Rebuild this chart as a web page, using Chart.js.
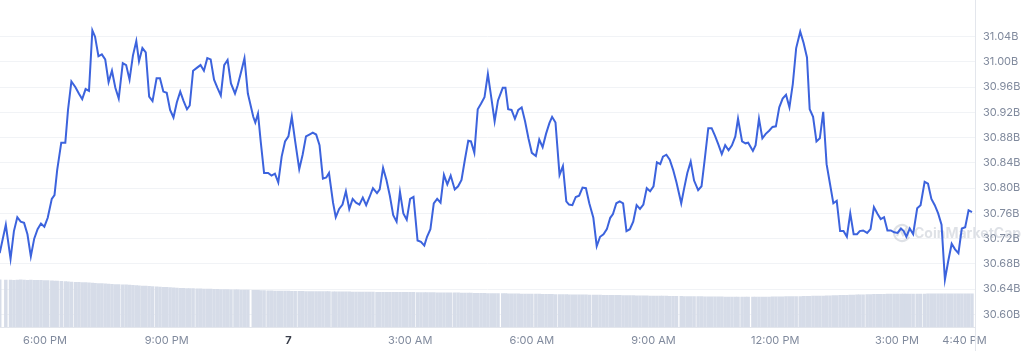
<!DOCTYPE html>
<html>
<head>
<meta charset="utf-8">
<script src="https://cdn.jsdelivr.net/npm/chart.js@4.4.1/dist/chart.umd.min.js"></script>
<style>
  html, body { margin: 0; padding: 0; background: #fff; }
  #wrap { position: relative; width: 1024px; height: 351px; }
</style>
</head>
<body>
<div id="wrap"><canvas id="mcap"></canvas></div>
<script>
// time of each sample, minutes from midnight of day 6 (1440 = day 7 00:00)
const times = [
  1013,1022,1029,1034,1039,1044,1049,1054,1059,1064,1069,1074,1079,1084,1090,1094,1098,1104,1110,1114,
  1119,1125,1130,1135,1140,1145,1150,1154,1159,1164,1169,1174,1179,1184,1189,1195,1200,1205,1210,1215,
  1219,1224,1229,1234,1239,1245,1250,1255,1260,1265,1270,1275,1280,1285,1290,1294,1299,1305,1310,1315,
  1320,1325,1330,1335,1340,1345,1350,1355,1361,1365,1370,1375,1380,
  1388,1391,1395,1399,1404,1410,1415,1420,1425,1430,1435,1440,1445,1450,1456,1461,1466,1471,1476,1481,
  1486,1491,1496,1500,1506,1510,1515,1520,1525,1530,1535,1540,1545,1550,1555,1560,1565,1571,1575,1580,
  1585,1590,1595,1600,1605,1610,1615,1620,1625,1631,1636,1641,1645,1650,1655,1660,1665,1670,1675,1680,
  1686,1691,1696,1701,1706,1710,1715,1720,1725,1730,1735,1740,1745,1750,
  1757,1761,1765,1770,1775,1780,1785,1790,1795,1800,1806,1811,1816,1821,1826,1830,1835,1841,1846,1851,
  1855,1860,1865,1870,1875,1880,1885,1891,1896,1901,1906,1911,1916,1920,1925,1930,1935,1940,1945,1950,
  1955,1960,1965,1970,1975,1980,1985,1990,1994,1999,2004,2009,2014,2021,2025,2030,2035,2040,2046,2051,
  2056,2061,2066,2071,2076,2081,2086,2091,2096,2101,2105,2111,2116,2120,
  2127,2131,2136,2141,2146,2151,2156,2161,2166,2171,2176,2181,2186,2191,2197,2202,2207,2211,2216,2221,
  2226,2231,2236,2241,2246,2251,2256,2261,2266,2271,2276,2281,2285,2290,2296,2301,2306,2311,2316,2321,
  2326,2331,2336,2341,2346,2350,2354,2359,2364,2370,2375,2381,2386,2391,2396,2401,2406,2411,2416,2421,
  2426,2431,2436,2441,2446,2451
];

// market cap, billions USD
const marketCap = [
  30.697,30.742,30.688,30.732,30.754,30.747,30.745,30.727,30.692,30.720,
  30.735,30.744,30.739,30.753,30.783,30.789,30.829,30.872,30.872,30.924,
  30.969,30.960,30.950,30.941,30.957,30.954,31.050,31.040,31.009,31.012,
  31.004,30.968,30.986,30.959,30.942,30.998,30.995,30.972,31.010,31.033,
  31.001,31.022,31.015,30.945,30.938,30.974,30.974,30.953,30.951,30.924,
  30.912,30.936,30.953,30.938,30.925,30.931,30.986,30.991,30.995,30.986,
  31.006,31.004,30.972,30.959,30.947,30.995,31.003,30.966,30.950,30.963,
  30.984,31.006,30.950,
  30.913,30.904,30.918,30.874,30.824,30.824,30.820,30.823,30.809,30.850,
  30.874,30.882,30.913,30.874,30.830,30.853,30.882,30.885,30.888,30.885,
  30.868,30.815,30.817,30.824,30.777,30.754,30.767,30.774,30.795,30.767,
  30.783,30.777,30.774,30.785,30.773,30.786,30.800,30.792,30.798,30.832,
  30.813,30.788,30.757,30.747,30.794,30.760,30.750,30.783,30.786,30.717,
  30.715,30.709,30.723,30.735,30.776,30.783,30.777,30.821,30.806,30.820,
  30.798,30.803,30.813,30.845,30.875,30.874,30.856,30.925,30.934,30.944,
  30.981,30.944,30.906,30.939,
  30.959,30.959,30.925,30.924,30.910,30.924,30.928,30.906,30.879,30.856,
  30.851,30.877,30.865,30.886,30.903,30.913,30.904,30.821,30.835,30.779,
  30.774,30.773,30.786,30.788,30.801,30.800,30.776,30.753,30.708,30.723,
  30.727,30.735,30.753,30.759,30.776,30.779,30.776,30.732,30.735,30.747,
  30.773,30.767,30.774,30.800,30.795,30.803,30.841,30.838,30.850,30.853,
  30.845,30.829,30.809,30.776,30.798,30.824,30.842,30.812,30.797,30.803,
  30.848,30.895,30.895,30.883,30.869,30.854,30.868,30.860,30.868,30.882,
  30.910,30.874,30.871,30.872,
  30.859,30.868,30.910,30.879,30.886,30.891,30.897,30.898,30.928,30.942,
  30.948,30.928,30.965,31.022,31.048,31.030,31.007,30.925,30.913,30.874,
  30.879,30.921,30.838,30.807,30.776,30.780,30.732,30.732,30.723,30.760,
  30.727,30.727,30.732,30.733,30.729,30.735,30.770,30.760,30.751,30.754,
  30.733,30.733,30.730,30.729,30.736,30.732,30.723,30.736,30.727,30.768,
  30.773,30.810,30.807,30.783,30.773,30.760,30.742,30.655,30.685,30.712,
  30.703,30.697,30.736,30.738,30.765,30.762
];

// volume, billions USD (one bar per sample)
const volume = [
  4.52,4.50,4.51,4.49,4.50,4.52,4.50,4.48,4.50,4.49,4.47,4.48,
  4.46,4.45,4.44,4.42,4.40,4.38,4.36,4.33,4.31,4.30,4.28,4.27,
  4.26,4.24,4.22,4.20,4.18,4.16,4.14,4.12,4.10,4.08,4.07,4.05,
  4.04,4.02,4.00,3.98,3.96,3.94,3.92,3.90,3.88,3.86,3.84,3.82,
  3.80,3.78,3.76,3.74,3.72,3.71,3.70,3.69,3.68,3.67,3.66,3.65,
  3.64,3.63,3.62,3.61,3.60,3.60,3.59,3.58,3.57,3.56,3.55,3.54,
  3.54,3.53,3.52,3.51,3.50,3.49,3.48,3.47,3.46,3.45,3.45,3.44,
  3.44,3.43,3.43,3.42,3.42,3.41,3.41,3.40,3.40,3.40,3.39,3.39,
  3.39,3.38,3.38,3.38,3.37,3.37,3.37,3.36,3.36,3.36,3.35,3.35,
  3.35,3.35,3.34,3.34,3.34,3.34,3.33,3.33,3.33,3.33,3.32,3.32,
  3.32,3.32,3.31,3.31,3.31,3.30,3.30,3.30,3.29,3.29,3.28,3.28,
  3.28,3.27,3.27,3.26,3.26,3.25,3.25,3.24,3.24,3.23,3.23,3.22,
  3.22,3.21,3.21,3.20,3.20,3.19,3.19,3.18,3.18,3.17,3.17,3.16,
  3.16,3.15,3.15,3.14,3.14,3.13,3.13,3.12,3.12,3.11,3.11,3.10,
  3.10,3.09,3.09,3.08,3.08,3.07,3.07,3.06,3.06,3.05,3.05,3.04,
  3.04,3.03,3.03,3.02,3.02,3.01,3.01,3.00,3.00,2.99,2.99,2.98,
  2.98,2.97,2.97,2.96,2.96,2.95,2.95,2.94,2.94,2.93,2.93,2.92,
  2.92,2.91,2.91,2.90,2.90,2.90,2.89,2.89,2.89,2.88,2.88,2.88,
  2.88,2.88,2.87,2.87,2.87,2.87,2.87,2.87,2.88,2.88,2.88,2.89,
  2.89,2.90,2.90,2.91,2.91,2.92,2.93,2.93,2.94,2.95,2.95,2.96,
  2.97,2.97,2.98,2.99,3.00,3.01,3.02,3.03,3.04,3.05,3.06,3.07,
  3.08,3.09,3.10,3.11,3.12,3.13,3.13,3.14,3.14,3.15,3.15,3.15,
  3.16,3.16,3.16,3.16,3.17,3.17,3.17,3.17,3.17,3.18,3.18,3.18,
  3.18,3.18,3.18,3.18,3.18,3.18,3.18,3.18,3.18,3.18,3.18
];

const yTicks = [30.60,30.64,30.68,30.72,30.76,30.80,30.84,30.88,30.92,30.96,31.00,31.04];
const xTicks = [1080,1260,1440,1620,1800,1980,2160,2340,2440];
const xLabels = ["6:00 PM","9:00 PM","7","3:00 AM","6:00 AM","9:00 AM","12:00 PM","3:00 PM","4:40 PM"];

const gray = "#808a9d";

// vertical rule on the right edge of the plot, full height
const edgeLine = {
  id: "edgeLine",
  afterDraw(chart) {
    const c = chart.ctx;
    const x = Math.round(chart.chartArea.right) + 0.5;
    c.save();
    c.strokeStyle = "#e3e6ec";
    c.lineWidth = 1;
    c.beginPath();
    c.moveTo(x, 0);
    c.lineTo(x, chart.height);
    c.stroke();
    c.restore();
  }
};

// faint watermark behind the line
const watermark = {
  id: "watermark",
  beforeDatasetsDraw(chart) {
    const c = chart.ctx;
    c.save();
    c.globalAlpha = 0.28;
    c.strokeStyle = "#8a93a6";
    c.fillStyle = "#8a93a6";
    c.lineWidth = 2.2;
    c.beginPath();
    c.arc(902, 233, 8, Math.PI * 0.15, Math.PI * 1.85);
    c.stroke();
    c.beginPath();
    c.moveTo(897, 236);
    c.lineTo(900, 229);
    c.lineTo(903, 235);
    c.lineTo(906, 229);
    c.lineTo(908, 236);
    c.stroke();
    c.font = "bold 14px Inter, sans-serif";
    c.textBaseline = "middle";
    c.fillText("CoinMarketCap", 914, 234);
    c.restore();
  }
};

new Chart(document.getElementById("mcap"), {
  type: "line",
  data: {
    datasets: [
      {
        label: "Market Cap",
        data: times.map((t, i) => ({ x: t, y: marketCap[i] })),
        borderColor: "#3c63dd",
        borderWidth: 2,
        pointRadius: 0,
        tension: 0,
        yAxisID: "y",
        order: 0
      },
      {
        type: "bar",
        label: "Volume",
        data: volume.map((v, i) => ({ x: times[i], y: v })),
        backgroundColor: "#d6dce8",
        barThickness: 2.8,
        yAxisID: "y2",
        order: 1
      }
    ]
  },
  options: {
    responsive: true,
    maintainAspectRatio: false,
    animation: false,
    layout: { padding: 0 },
    plugins: {
      legend: { display: false },
      tooltip: { enabled: false }
    },
    scales: {
      x: {
        type: "linear",
        min: 1013.4,
        max: 2455.5,
        offset: false,
        grid: { display: false, drawTicks: false },
        border: { display: true, color: "#e3e6ec" },
        afterBuildTicks: (scale) => {
          scale.ticks = xTicks.map((v) => ({ value: v }));
        },
        afterFit: (scale) => { scale.height = 24; },
        ticks: {
          autoSkip: false,
          maxRotation: 0,
          padding: 7,
          callback: (value, index) => xLabels[index],
          color: (ctx) => (ctx.tick && ctx.tick.value === 1440 ? "#3a3f4b" : gray),
          font: (ctx) => ({
            family: "Inter, sans-serif",
            size: 11,
            weight: ctx.tick && ctx.tick.value === 1440 ? "bold" : "normal"
          })
        }
      },
      y: {
        position: "right",
        min: 30.58,
        max: 31.075,
        grid: { color: "#f1f3f6", drawTicks: false },
        border: { display: false },
        afterBuildTicks: (scale) => {
          scale.ticks = yTicks.map((v) => ({ value: v }));
        },
        afterFit: (scale) => { scale.width = 49; },
        ticks: {
          padding: 8,
          color: gray,
          font: { family: "Inter, sans-serif", size: 11 },
          callback: (v) => v.toFixed(2) + "B"
        }
      },
      y2: {
        display: false,
        min: 0,
        max: 30
      }
    }
  },
  plugins: [edgeLine, watermark]
});
</script>
</body>
</html>
